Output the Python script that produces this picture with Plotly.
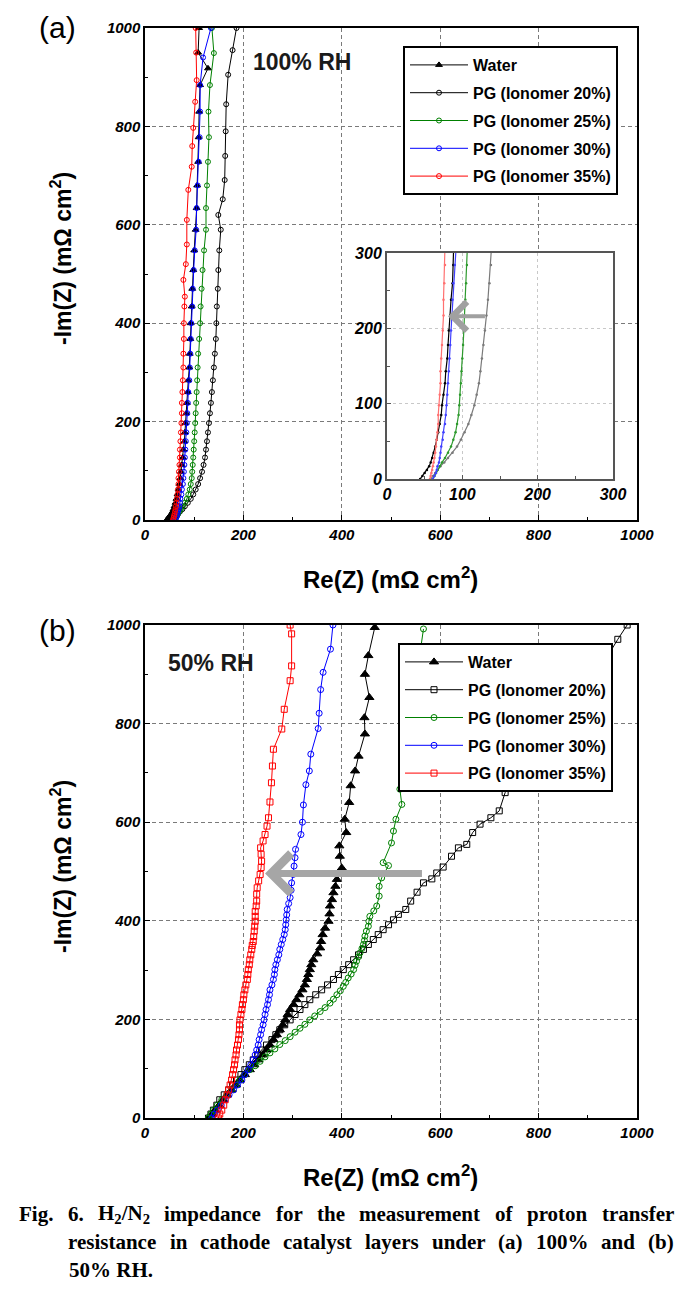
import plotly.graph_objects as go

# ---------------- data: panel (a) 100% RH ----------------
series_names = ["Water", "PG (Ionomer 20%)", "PG (Ionomer 25%)", "PG (Ionomer 30%)", "PG (Ionomer 35%)"]

a_water_y = [0, 4, 8, 12, 17, 22, 28, 35, 43, 52, 62, 73, 85, 98, 112, 127, 143, 160, 178, 197, 217, 238, 260, 284, 310, 338, 368, 400, 434, 470, 508, 548, 590, 634, 680, 728, 778, 830, 884, 918, 950, 1000]
a_water_x = [44, 47, 50, 53, 56, 58, 60, 62, 64, 66, 68, 70, 72, 73, 75, 77, 78, 80, 81, 82, 84, 85, 87, 88, 90, 91, 92, 93, 95, 96, 98, 100, 103, 105, 106, 108, 109, 110, 112, 128, 108, 110]

a_i20_y = [0, 4, 8, 12, 17, 22, 28, 35, 43, 52, 62, 73, 85, 98, 112, 127, 143, 160, 178, 197, 217, 238, 260, 284, 310, 338, 368, 400, 434, 470, 508, 548, 590, 620, 652, 691, 740, 790, 845, 905, 955, 1000]
a_i20_x = [58, 61, 64, 67, 71, 76, 81, 87, 93, 98, 103, 108, 112, 116, 119, 122, 124, 126, 128, 130, 132, 134, 136, 138, 140, 142, 144, 145, 146, 148, 149, 151, 154, 149, 158, 162, 163, 164, 165, 169, 178, 186]

a_i25_y = [0, 4, 8, 12, 17, 22, 28, 35, 43, 52, 62, 73, 85, 98, 112, 127, 143, 160, 178, 197, 217, 238, 260, 284, 310, 338, 368, 400, 434, 470, 508, 548, 590, 634, 680, 728, 778, 830, 884, 949, 1000]
a_i25_x = [61, 63, 65, 67, 70, 73, 77, 81, 85, 88, 91, 93, 95, 96, 97, 98, 99, 100, 101, 102, 103, 104, 105, 106, 107, 108, 110, 112, 113, 115, 117, 120, 124, 124, 126, 128, 130, 129, 132, 140, 136]

a_i30_y = [0, 4, 8, 12, 17, 22, 28, 35, 43, 52, 62, 73, 85, 98, 112, 127, 143, 160, 178, 197, 217, 238, 260, 284, 310, 338, 368, 400, 434, 470, 508, 548, 590, 634, 680, 728, 778, 830, 884, 940, 1000]
a_i30_x = [61, 63, 65, 66, 67, 69, 70, 71, 72, 74, 75, 77, 78, 79, 80, 81, 82, 83, 84, 85, 86, 87, 88, 90, 91, 92, 93, 94, 96, 97, 99, 101, 104, 105, 107, 109, 111, 112, 112, 118, 134]

a_i35_y = [0, 4, 8, 12, 17, 22, 28, 35, 43, 52, 62, 73, 85, 98, 112, 127, 143, 160, 178, 197, 217, 238, 260, 284, 310, 338, 368, 400, 434, 454, 488, 520, 560, 610, 671, 718, 760, 797, 850, 894, 950, 1000]
a_i35_x = [57, 58, 59, 60, 61, 62, 63, 64, 65, 66, 67, 68, 68, 69, 70, 71, 71, 72, 73, 74, 75, 75, 76, 77, 78, 78, 79, 79, 80, 81, 78, 83, 85, 85, 88, 95, 96, 98, 102, 105, 104, 103]

# ---------------- data: panel (b) 50% RH ----------------
b_water_y = [0, 8, 16, 26, 37, 47, 57, 67, 77, 88, 98, 108, 118, 128, 138, 148, 159, 169, 179, 189, 199, 210, 220, 230, 240, 250, 260, 270, 281, 291, 301, 311, 321, 333, 345, 358, 372, 385, 399, 414, 430, 443, 457, 470, 484, 507, 531, 552, 579, 606, 640, 674, 704, 734, 779, 812, 853, 900, 938, 995]
b_water_x = [129, 136, 142, 151, 159, 167, 176, 185, 193, 203, 213, 222, 230, 239, 247, 254, 261, 268, 274, 280, 285, 290, 295, 302, 308, 314, 320, 325, 329, 332, 335, 338, 342, 350, 356, 358, 361, 366, 373, 375, 376, 380, 383, 387, 390, 400, 396, 395, 409, 406, 415, 418, 427, 434, 447, 446, 456, 447, 454, 467]

b_i20_y = [0, 8, 16, 26, 37, 47, 57, 67, 77, 88, 98, 108, 118, 128, 138, 148, 159, 169, 179, 189, 199, 210, 220, 230, 240, 250, 260, 270, 281, 291, 301, 311, 321, 331, 342, 352, 362, 372, 382, 392, 402, 413, 423, 440, 458, 477, 485, 497, 509, 531, 548, 555, 579, 596, 609, 623, 660, 675, 720, 770, 820, 870, 920, 971, 1000]
b_i20_x = [129, 134, 139, 146, 152, 161, 170, 178, 186, 195, 203, 212, 220, 229, 237, 247, 258, 266, 274, 284, 295, 305, 315, 325, 335, 347, 359, 371, 383, 393, 403, 414, 424, 434, 444, 454, 464, 474, 484, 495, 505, 515, 530, 540, 553, 566, 583, 593, 606, 623, 637, 654, 666, 681, 703, 720, 732, 745, 780, 820, 860, 895, 930, 961, 980]

b_i25_y = [0, 8, 16, 26, 37, 47, 57, 67, 77, 88, 98, 106, 115, 124, 132, 140, 149, 157, 165, 174, 182, 190, 199, 207, 216, 224, 233, 241, 250, 258, 267, 275, 284, 292, 301, 310, 318, 327, 335, 344, 352, 360, 369, 379, 389, 399, 409, 420, 430, 450, 470, 487, 512, 518, 558, 582, 606, 636, 667, 700, 750, 800, 850, 900, 950, 992]
b_i25_x = [129, 134, 139, 147, 156, 166, 176, 185, 193, 203, 213, 224, 234, 244, 254, 264, 274, 285, 295, 305, 315, 325, 335, 345, 356, 366, 376, 383, 390, 397, 403, 408, 413, 419, 424, 427, 430, 434, 437, 441, 444, 446, 447, 450, 454, 455, 457, 465, 471, 476, 476, 481, 495, 484, 501, 505, 510, 522, 518, 525, 535, 542, 548, 553, 560, 566]

b_i30_y = [0, 8, 16, 26, 37, 47, 57, 67, 77, 88, 98, 108, 118, 128, 138, 148, 159, 169, 179, 189, 199, 210, 220, 230, 240, 250, 260, 270, 281, 291, 301, 311, 321, 331, 342, 352, 362, 372, 382, 392, 402, 412, 423, 435, 447, 462, 477, 494, 511, 528, 545, 575, 600, 635, 676, 704, 738, 790, 821, 869, 904, 951, 1000]
b_i30_x = [136, 141, 147, 155, 163, 171, 180, 188, 197, 203, 210, 215, 220, 224, 227, 230, 232, 235, 237, 240, 242, 244, 246, 249, 251, 253, 254, 258, 261, 263, 264, 266, 269, 272, 274, 277, 280, 283, 285, 286, 287, 288, 289, 292, 295, 297, 298, 301, 303, 305, 306, 317, 320, 322, 327, 334, 337, 352, 354, 357, 362, 377, 382]

b_i35_y = [0, 8, 16, 26, 37, 47, 57, 67, 77, 88, 98, 108, 118, 128, 138, 148, 159, 169, 179, 189, 199, 210, 220, 230, 240, 250, 260, 270, 281, 291, 301, 311, 321, 331, 342, 350, 358, 368, 379, 389, 399, 409, 419, 430, 440, 454, 467, 481, 494, 508, 521, 535, 548, 562, 575, 592, 609, 641, 680, 714, 748, 789, 829, 887, 917, 982, 1000]
b_i35_x = [149, 152, 156, 160, 163, 167, 170, 173, 176, 178, 180, 182, 183, 185, 186, 188, 190, 191, 192, 192, 193, 195, 197, 198, 200, 201, 203, 205, 208, 209, 210, 212, 213, 215, 217, 218, 220, 221, 222, 223, 224, 224, 224, 226, 227, 227, 228, 231, 234, 236, 237, 236, 235, 240, 244, 248, 251, 254, 257, 259, 261, 278, 283, 295, 298, 298, 295]

# arrow endpoints (data units)
inset_arrow = dict(tail=132, head=81, level=216)
b_arrow = dict(tail=566, head=244, level=496)

caption_lines = [
    "Fig. 6. H<sub>2</sub>/N<sub>2</sub> impedance for the measurement of proton transfer",
    "resistance in cathode catalyst layers under (a) 100% and (b)",
    "50% RH.",
]

# ---------------- styles ----------------
colors = ["#000000", "#000000", "#008000", "#0000ff", "#ff0000"]
inset_colors = ["#000000", "#7a7a7a", "#2e9a2e", "#4040ff", "#ff7070"]
a_symbols = ["triangle-up", "circle-open", "circle-open", "circle-open", "circle-open"]
b_symbols = ["triangle-up", "square-open", "circle-open", "circle-open", "square-open"]

W, H = 693, 1296
def px(xp):
    return xp / W
def py(yp):
    return 1 - yp / H

fig = go.Figure()

a_data = [(a_water_x, a_water_y), (a_i20_x, a_i20_y), (a_i25_x, a_i25_y), (a_i30_x, a_i30_y), (a_i35_x, a_i35_y)]
b_data = [(b_water_x, b_water_y), (b_i20_x, b_i20_y), (b_i25_x, b_i25_y), (b_i30_x, b_i30_y), (b_i35_x, b_i35_y)]

for i, (xs, ys) in enumerate(a_data):
    fig.add_trace(go.Scatter(
        x=xs, y=ys, xaxis="x", yaxis="y", mode="lines+markers", name=series_names[i],
        line=dict(color=colors[i], width=1),
        marker=dict(symbol=a_symbols[i], size=6 if i == 0 else 5, color=colors[i],
                    line=dict(color=colors[i], width=1)),
        legend="legend", legendgroup="a%d" % i, showlegend=True))

for i, (xs, ys) in enumerate(b_data):
    fig.add_trace(go.Scatter(
        x=xs, y=ys, xaxis="x2", yaxis="y2", mode="lines+markers", name=series_names[i],
        line=dict(color=colors[i], width=1),
        marker=dict(symbol=b_symbols[i], size=8 if i == 0 else 6, color=colors[i],
                    line=dict(color=colors[i], width=1)),
        legend="legend2", legendgroup="b%d" % i, showlegend=True))

for i, (xs, ys) in enumerate(a_data):
    fig.add_trace(go.Scatter(
        x=xs, y=ys, xaxis="x3", yaxis="y3", mode="lines+markers",
        line=dict(color=inset_colors[i], width=1.2),
        marker=dict(symbol="circle", size=2.5, color=inset_colors[i]),
        showlegend=False, hoverinfo="skip"))

tickfont = dict(family="Liberation Sans", size=15, color="black", weight="bold", style="italic")

def main_axis(domain, anchor):
    return dict(domain=domain, anchor=anchor, range=[0, 1000], dtick=200, tick0=0,
                automargin=False,
                showline=True, linecolor="black", linewidth=1.5, mirror=True,
                ticks="inside", ticklen=5, tickwidth=1, tickcolor="black",
                minor=dict(dtick=100, ticks="inside", ticklen=3, tickcolor="black", showgrid=False),
                showgrid=True, gridcolor="#7a7a7a", gridwidth=1, griddash="4px,3px",
                zeroline=False, tickfont=tickfont, fixedrange=True)

def inset_axis(domain, anchor):
    return dict(domain=domain, anchor=anchor, range=[0, 300], dtick=100, automargin=False,
                showline=True, linecolor="#555555", linewidth=2, mirror=True,
                ticks="inside", ticklen=4, tickcolor="#555555",
                minor=dict(dtick=50, ticks="inside", ticklen=3, tickcolor="#555555", showgrid=False),
                showgrid=True, gridcolor="#c8c8c8", griddash="dot", zeroline=False,
                tickfont=dict(family="Liberation Sans", size=16, color="black", weight="bold", style="italic"),
                fixedrange=True)

legend_font = dict(family="Liberation Sans", size=16, color="black", weight="bold")
xdom = [px(145), px(637)]
fig.update_layout(
    template="none",
    width=W, height=H, margin=dict(l=0, r=0, t=0, b=0, pad=0, autoexpand=False),
    paper_bgcolor="white", plot_bgcolor="white",
    font=dict(family="Liberation Sans", color="black"),
    xaxis=main_axis(xdom, "y"),
    yaxis=main_axis([py(520), py(28)], "x"),
    xaxis2=main_axis(xdom, "y2"),
    yaxis2=main_axis([py(1118), py(625)], "x2"),
    xaxis3=inset_axis([px(387), px(613)], "y3"),
    yaxis3=inset_axis([py(479), py(253)], "x3"),
    legend=dict(x=px(403), y=py(46), xanchor="left", yanchor="top",
                bgcolor="white", bordercolor="black", borderwidth=2,
                font=legend_font, itemwidth=58, tracegroupgap=4, traceorder="grouped"),
    legend2=dict(x=px(398), y=py(643), xanchor="left", yanchor="top",
                 bgcolor="white", bordercolor="black", borderwidth=2,
                 font=legend_font, itemwidth=58, tracegroupgap=4, traceorder="grouped"),
)

ann = []
xtitle_font = dict(family="Liberation Sans", size=24, color="black", weight="bold")
ytitle_font = dict(family="Liberation Sans", size=23, color="black", weight="bold")
ann.append(dict(text="Re(Z) (m\u03a9 cm<sup>2</sup>)", x=px(390), y=py(578), xref="paper", yref="paper",
                showarrow=False, font=xtitle_font, xanchor="center", yanchor="middle"))
ann.append(dict(text="Re(Z) (m\u03a9 cm<sup>2</sup>)", x=px(390), y=py(1176), xref="paper", yref="paper",
                showarrow=False, font=xtitle_font, xanchor="center", yanchor="middle"))
ann.append(dict(text="-Im(Z) (m\u03a9 cm<sup>2</sup>)", x=px(61), y=py(258), xref="paper", yref="paper",
                showarrow=False, font=ytitle_font, textangle=-90, xanchor="center", yanchor="middle"))
ann.append(dict(text="-Im(Z) (m\u03a9 cm<sup>2</sup>)", x=px(61), y=py(866), xref="paper", yref="paper",
                showarrow=False, font=ytitle_font, textangle=-90, xanchor="center", yanchor="middle"))
ann.append(dict(text="(a)", x=px(57), y=py(28), xref="paper", yref="paper", showarrow=False,
                font=dict(family="Liberation Sans", size=30, color="black"), xanchor="center", yanchor="middle"))
ann.append(dict(text="(b)", x=px(57), y=py(630), xref="paper", yref="paper", showarrow=False,
                font=dict(family="Liberation Sans", size=30, color="black"), xanchor="center", yanchor="middle"))
ann.append(dict(text="100% RH", x=px(251), y=py(62), xref="paper", yref="paper", showarrow=False,
                font=dict(family="Liberation Sans", size=23, color="#1a1a1a", weight="bold"),
                xanchor="left", yanchor="middle"))
ann.append(dict(text="50% RH", x=px(166), y=py(663), xref="paper", yref="paper", showarrow=False,
                font=dict(family="Liberation Sans", size=23, color="#1a1a1a", weight="bold"),
                xanchor="left", yanchor="middle"))
# arrows
ann.append(dict(x=inset_arrow["head"], y=inset_arrow["level"], ax=inset_arrow["tail"], ay=inset_arrow["level"],
                xref="x3", yref="y3", axref="x3", ayref="y3", text="", showarrow=True,
                arrowhead=4, arrowsize=1.4, arrowwidth=4, arrowcolor="#a0a0a0", standoff=0))
ann.append(dict(x=b_arrow["head"], y=b_arrow["level"], ax=b_arrow["tail"], ay=b_arrow["level"],
                xref="x2", yref="y2", axref="x2", ayref="y2", text="", showarrow=True,
                arrowhead=4, arrowsize=1.1, arrowwidth=7, arrowcolor="#a6a6a6", standoff=0))

# caption: justified lines laid out word by word (Times-Bold advance widths, per 1000 em)
TB = {' ': 250, 'a': 500, 'b': 556, 'c': 444, 'd': 556, 'e': 444, 'f': 333, 'g': 500, 'h': 556, 'i': 278,
      'j': 333, 'k': 556, 'l': 278, 'm': 833, 'n': 556, 'o': 500, 'p': 556, 'q': 556, 'r': 444, 's': 389,
      't': 333, 'u': 556, 'v': 500, 'w': 722, 'x': 500, 'y': 500, 'z': 444, 'F': 611, 'H': 778, 'N': 722,
      'R': 722, '.': 250, '/': 278, '(': 333, ')': 333, '%': 1000}
def word_width(word, size):
    w = 0.0
    k = 0
    while k < len(word):
        if word.startswith("<sub>", k):
            end = word.index("</sub>", k)
            for ch in word[k + 5:end]:
                w += TB.get(ch, 500) * size * 0.7 / 1000
            k = end + 6
        else:
            w += TB.get(word[k], 500) * size / 1000
            k += 1
    return w

cap_size = 21
cap_font = dict(family="Liberation Serif", size=cap_size, color="black", weight="bold")
cap_rows = [(caption_lines[0], 18, 673, 1214, True),
            (caption_lines[1], 67, 673, 1242, True),
            (caption_lines[2], 67, None, 1270, False)]
for text, x0, x1, yc, justify in cap_rows:
    if not justify:
        ann.append(dict(text=text, x=px(x0), y=py(yc), xref="paper", yref="paper", showarrow=False,
                        font=cap_font, xanchor="left", yanchor="middle"))
        continue
    words = text.split(" ")
    widths = [word_width(w, cap_size) for w in words]
    gap = (x1 - x0 - sum(widths)) / (len(words) - 1)
    xpos = x0
    for w, wd in zip(words, widths):
        ann.append(dict(text=w, x=px(xpos), y=py(yc), xref="paper", yref="paper", showarrow=False,
                        font=cap_font, xanchor="left", yanchor="middle", borderpad=0))
        xpos += wd + gap

fig.update_layout(annotations=ann)

# remove the default 8px page margin of the HTML body so the figure sits at the window origin
fig.write_html("out.html", config={"displayModeBar": False},
               post_script="document.body.style.margin='0';document.body.style.padding='0';")
